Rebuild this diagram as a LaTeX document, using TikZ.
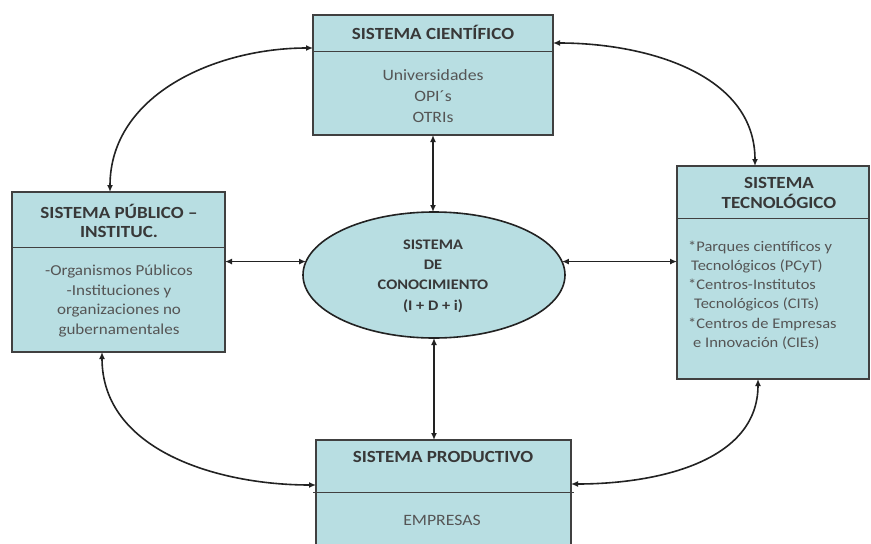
\documentclass[tikz,border=0pt]{standalone}
\usepackage{fontspec}
\setmainfont{Carlito}[FakeStretch=1.12]
\usetikzlibrary{arrows.meta,shapes.geometric}

\definecolor{boxfill}{HTML}{B8DEE2}
\definecolor{boxline}{HTML}{404040}
\definecolor{headtext}{HTML}{383838}
\definecolor{bodytext}{HTML}{555555}
\definecolor{linkcol}{HTML}{222222}

\tikzset{
  box/.style={draw=boxline, fill=boxfill, line width=1.5pt, rectangle,
    inner sep=0pt, outer sep=0pt, anchor=north west},
  knowledge/.style={draw=linkcol, fill=boxfill, line width=1.6pt, ellipse,
    inner sep=0pt, outer sep=0pt, minimum width=262pt, minimum height=126pt},
  head/.style={text=headtext, font=\fontsize{17}{19}\selectfont\bfseries,
    align=center, inner sep=0pt},
  body/.style={text=bodytext, font=\fontsize{15.8}{21}\selectfont,
    align=center, inner sep=0pt},
  divider/.style={draw=boxline, line width=1pt},
  tip/.tip={Latex[length=7pt,width=6pt]},
  link/.style={draw=linkcol, line width=1.6pt, tip-tip}
}

\begin{document}
\begin{tikzpicture}[x=1pt,y=1pt]
\useasboundingbox (0,0) rectangle (871,-544);

% boxes of the five systems
\node[box, minimum width=240pt, minimum height=120pt] (sc) at (313,-15) {};
\node[box, minimum width=213pt, minimum height=160pt] (pub) at (12,-192) {};
\node[box, minimum width=192pt, minimum height=213pt] (tec) at (677,-166) {};
\node[box, minimum width=255pt, minimum height=108pt] (sp) at (316,-440) {};
\node[knowledge] (kn) at (434,-275) {};

% header dividers
\draw[divider] ([yshift=-36pt]sc.north west) -- ([yshift=-36pt]sc.north east);
\draw[divider] ([yshift=-55pt]pub.north west) -- ([yshift=-55pt]pub.north east);
\draw[divider] ([yshift=-52pt]tec.north west) -- ([yshift=-52pt]tec.north east);
\draw[divider] ([xshift=-3pt,yshift=-52pt]sp.north west) -- ([xshift=3pt,yshift=-52pt]sp.north east);

% texts
\node[head] (schead) at (433,-32) {SISTEMA CIENTÍFICO};
\node[body] (scbody) at (433,-96) {Universidades\\OPI´s\\OTRIs};

\node[head, font=\fontsize{17}{19}\selectfont\bfseries] (pubhead) at (119,-221) {SISTEMA PÚBLICO –\\INSTITUC.};
\node[body, font=\fontsize{15.2}{19.7}\selectfont] (pubbody) at (119,-301)
  {-Organismos Públicos\\-Instituciones y\\organizaciones no\\gubernamentales};

\node[head, font=\fontsize{17}{20}\selectfont\bfseries] (techead) at (779,-193) {SISTEMA\\TECNOLÓGICO};
\node[body, font=\fontsize{14.7}{19.2}\selectfont, align=left, anchor=west] (tecbody) at (688,-295)
  {*Parques científicos y\\
   \hspace*{3pt}Tecnológicos (PCyT)\\
   *Centros-Institutos\\
   \hspace*{6pt}Tecnológicos (CITs)\\
   *Centros de Empresas\\
   \hspace*{5pt}e Innovación (CIEs)};

\node[head, font=\fontsize{14.6}{20.3}\selectfont\bfseries] (knhead) at (433,-276)
  {SISTEMA\\DE\\CONOCIMIENTO\\(I + D + i)};

\node[head] (sphead) at (443,-457) {SISTEMA PRODUCTIVO};
\node[body] (spbody) at (442,-520) {EMPRESAS};

% straight links with the knowledge system
\draw[link] (sc.south) -- (sc.south |- kn.north);
\draw[link] (kn.south) -- (kn.south |- sp.north);
\draw[link] (pub.east |- kn.174) -- (kn.174);
\draw[link] (kn.6) -- (kn.6 -| tec.west);

% curved links around the ring
\coordinate (scW) at ([yshift=-33pt]sc.north west);
\coordinate (scE) at ([yshift=-28pt]sc.north east);
\coordinate (pubN) at ([xshift=98pt]pub.north west);
\coordinate (pubS) at ([xshift=90pt]pub.south west);
\coordinate (tecN) at ([xshift=78pt]tec.north west);
\coordinate (tecS) at ([xshift=81pt]tec.south west);
\coordinate (spW) at ([yshift=-45pt]sp.north west);
\coordinate (spE) at ([yshift=-44pt]sp.north east);

\draw[link] (scW) to[out=180, in=90] (pubN);
\draw[link] (scE) to[out=0, in=90] (tecN);
\draw[link] (pubS) to[out=-90, in=180] (spW);
\draw[link] (tecS) to[out=-90, in=0] (spE);
\end{tikzpicture}
\end{document}
